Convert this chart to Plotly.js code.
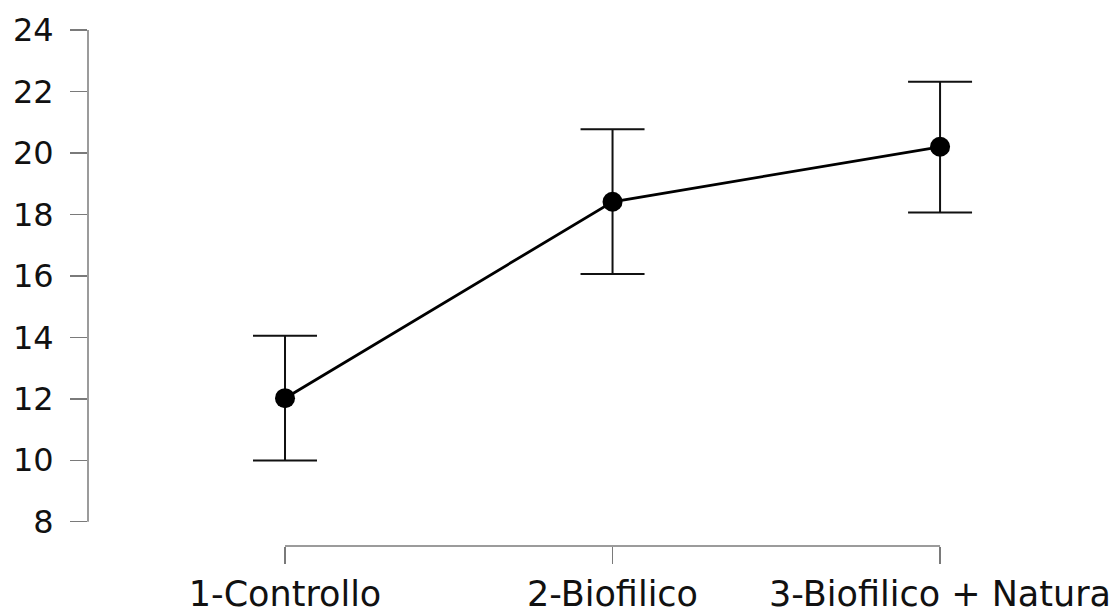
<!DOCTYPE html>
<html>
<head>
<meta charset="utf-8">
<script src="https://cdn.plot.ly/plotly-3.0.1.min.js"></script>
<style>html,body{margin:0;padding:0;background:#fff;}#chart{width:1116px;height:607px;}</style>
</head>
<body>
<div id="chart"></div>
<script>
var categories = ["1-Controllo", "2-Biofilico", "3-Biofilico + Natura"];
var means = [12.02, 18.41, 20.2];
var errUpper = [2.03, 2.36, 2.12];
var errLower = [2.03, 2.35, 2.14];
var yTicks = [8, 10, 12, 14, 16, 18, 20, 22, 24];

var axisColor = "#7a7a7a";
var fontFamily = "DejaVu Sans, Verdana, sans-serif";

var trace = {
  x: categories,
  y: means,
  type: "scatter",
  mode: "lines+markers",
  line: {color: "#000", width: 2.8},
  marker: {color: "#000", size: 20},
  error_y: {
    type: "data",
    symmetric: false,
    array: errUpper,
    arrayminus: errLower,
    color: "#111",
    thickness: 2,
    width: 32
  },
  hoverinfo: "skip"
};

var layout = {
  width: 1116,
  height: 607,
  margin: {l: 88, r: 116, t: 30, b: 61},
  paper_bgcolor: "#fff",
  plot_bgcolor: "#fff",
  showlegend: false,
  font: {family: fontFamily, color: "#000"},
  xaxis: {
    type: "category",
    range: [-0.6015, 2.183],
    showgrid: false,
    zeroline: false,
    showline: false,
    ticks: "outside",
    ticklen: 17,
    tickwidth: 1.5,
    tickcolor: axisColor,
    tickfont: {size: 35, family: fontFamily, color: "#111"},
    ticklabelstandoff: 0
  },
  yaxis: {
    range: [7.21, 24],
    tickvals: yTicks,
    ticktext: yTicks.map(String),
    showgrid: false,
    zeroline: false,
    showline: false,
    ticks: "outside",
    ticklen: 17,
    tickwidth: 1.5,
    tickcolor: axisColor,
    tickfont: {size: 32, family: fontFamily, color: "#111"},
    ticklabelstandoff: 10
  },
  shapes: [
    {type: "line", xref: "paper", yref: "y", x0: 0, x1: 0, y0: yTicks[0], y1: yTicks[yTicks.length - 1],
     line: {color: axisColor, width: 1.5}},
    {type: "line", xref: "x", yref: "paper", x0: 0, x1: categories.length - 1, y0: 0, y1: 0,
     line: {color: axisColor, width: 1.5}}
  ]
};

Plotly.newPlot("chart", [trace], layout, {staticPlot: true, displayModeBar: false});
</script>
</body>
</html>
